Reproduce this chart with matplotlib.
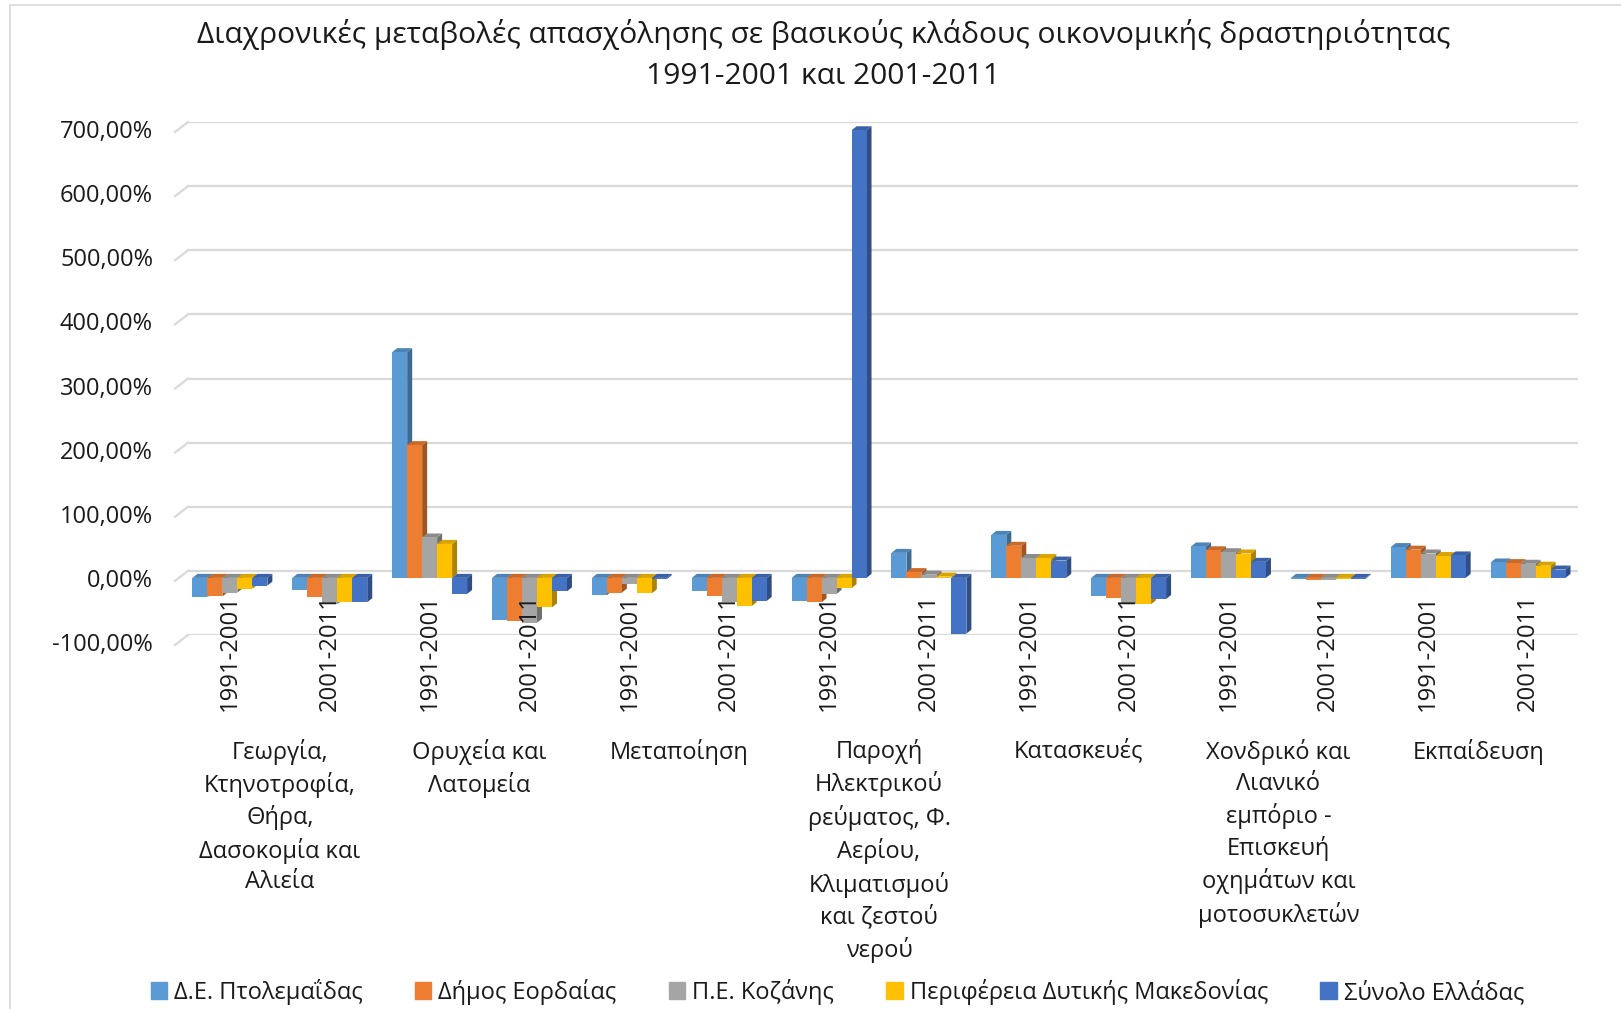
import matplotlib
matplotlib.use("Agg")
import matplotlib.pyplot as plt
from matplotlib.patches import Polygon
from matplotlib.lines import Line2D
from matplotlib.colors import to_rgb
import matplotlib.transforms as mtransforms
import numpy as np

plt.rcParams['font.family'] = ['Open Sans', 'DejaVu Sans']

title = "Διαχρονικές μεταβολές απασχόλησης σε βασικούς κλάδους οικονομικής δραστηριότητας\n1991-2001 και 2001-2011"

sectors = [
    "Γεωργία,\nΚτηνοτροφία,\nΘήρα,\nΔασοκομία και\nΑλιεία",
    "Ορυχεία και\nΛατομεία",
    "Μεταποίηση",
    "Παροχή\nΗλεκτρικού\nρεύματος, Φ.\nΑερίου,\nΚλιματισμού\nκαι ζεστού\nνερού",
    "Κατασκευές",
    "Χονδρικό και\nΛιανικό\nεμπόριο -\nΕπισκευή\nοχημάτων και\nμοτοσυκλετών",
    "Εκπαίδευση",
]
periods = ["1991-2001", "2001-2011"] * 7

series_names = ["Δ.Ε. Πτολεμαΐδας", "Δήμος Εορδαίας", "Π.Ε. Κοζάνης",
                "Περιφέρεια Δυτικής Μακεδονίας", "Σύνολο Ελλάδας"]

ptolemaida = [-30, -19, 352, -66, -27, -20, -36, 39, 67, -29, 49, -1.5, 48, 24]
eordaia    = [-29, -30, 207, -67, -23, -28, -38, 9, 50, -32, 43, -3, 44, 23]
kozani     = [-23, -41, 63, -70, -9, -38, -25, 5, 31, -40, 40, -3, 38, 22]
periferia  = [-17, -38, 53, -46, -24, -44, -16, 2, 31, -41, 38, -1.5, 34, 19]
ellada     = [-12, -38, -25, -21, -2, -36, 698, -87, 27, -33, 25, -1, 35, 13]

yticks = [-100, 0, 100, 200, 300, 400, 500, 600, 700]
ytick_labels = ["-100,00%", "0,00%", "100,00%", "200,00%", "300,00%",
                "400,00%", "500,00%", "600,00%", "700,00%"]

series = [ptolemaida, eordaia, kozani, periferia, ellada]
colors = ["#5B9BD5", "#ED7D31", "#A5A5A5", "#FFC000", "#4472C4"]
text_color = "#1A1A1A"

W, H = 1621, 1009
fig = plt.figure(figsize=(W / 100, H / 100), dpi=100)
ax_l, ax_r, ax_t, ax_b = 180, 1578, 122, 635
ax = fig.add_axes([ax_l / W, 1 - ax_b / H, (ax_r - ax_l) / W, (ax_b - ax_t) / H])

n = len(periods)
x = np.arange(n)
bw = 0.15
ax.set_xlim(-0.5, n - 0.5)
ax.set_ylim(-100, 700)

px_x = (ax_r - ax_l) / n
px_y = (ax_b - ax_t) / 800
dx = 5 / px_x
dy = 4 / px_y

# bars sit on the "front" plane, slightly below the back-wall gridlines
front = ax.transData + mtransforms.ScaledTranslation(0, -7 / 100, fig.dpi_scale_trans)

def darker(c, f):
    r, g, b = to_rgb(c)
    return (r * f, g * f, b * f)

for k, (vals, col, name) in enumerate(zip(series, colors, series_names)):
    pos = x + (k - 2) * bw
    bars = ax.bar(pos, vals, width=bw, color=col, label=name, zorder=3, linewidth=0,
                  transform=front)
    for rect in bars:
        x0 = rect.get_x()
        x1 = x0 + rect.get_width()
        yb = rect.get_y()
        yt = yb + rect.get_height()
        lo, hi = min(yb, yt), max(yb, yt)
        side = Polygon([(x1, lo), (x1 + dx, lo + dy), (x1 + dx, hi + dy), (x1, hi)],
                       closed=True, facecolor=darker(col, 0.68), edgecolor='none',
                       zorder=2, transform=front)
        top = Polygon([(x0, hi), (x0 + dx, hi + dy), (x1 + dx, hi + dy), (x1, hi)],
                      closed=True, facecolor=darker(col, 0.85), edgecolor='none',
                      zorder=2, transform=front)
        ax.add_patch(side)
        ax.add_patch(top)

# gridlines (back wall) with perspective stubs
grid_start = (188 - ax_l) / (ax_r - ax_l)
stub_start = (175 - ax_l) / (ax_r - ax_l)
drop = 10 / px_y
bt = mtransforms.blended_transform_factory(ax.transAxes, ax.transData)
for v, lab in zip(yticks, ytick_labels):
    ax.axhline(v, xmin=grid_start, xmax=1, color="#D9D9D9", linewidth=1.6, zorder=0)
    ax.plot([stub_start, grid_start], [v - drop, v], transform=bt, color="#D9D9D9",
            linewidth=1.6, clip_on=False, zorder=0)
    ax.text((153 - ax_l) / (ax_r - ax_l), v - drop, lab, transform=bt, ha='right',
            va='center', fontsize=17, color=text_color)

ax.set_yticks([])
for s in ax.spines.values():
    s.set_visible(False)

# period tick labels
ax.spines['bottom'].set_position(('data', 0))
ax.set_xticks(x)
ax.set_xticklabels(periods, rotation=90, fontsize=17.1, color=text_color)
ax.tick_params(axis='x', length=0, pad=17)
ax.xaxis.set_zorder(5)

# sector labels
trans = mtransforms.blended_transform_factory(ax.transData, fig.transFigure)
for i, lab in enumerate(sectors):
    ax.text(2 * i + 0.5, 1 - 739 / H, lab, transform=trans, ha='center', va='top',
            fontsize=17, color=text_color, linespacing=1.37)

fig.suptitle(title, x=0.508, y=1 - 19 / H, va='top', fontsize=21.6, color=text_color,
             linespacing=1.55)

handles = [plt.Rectangle((0, 0), 1, 1, color=c) for c in colors]
fig.legend(handles, series_names, loc='center', bbox_to_anchor=(0.5165, 1 - 992 / H), ncol=5,
           frameon=False, fontsize=17, handlelength=0.7, handleheight=0.7,
           handletextpad=0.3, columnspacing=2.2, labelcolor=text_color)

# chart border
fig.add_artist(Line2D([10 / W, 10 / W], [0, 1 - 5 / H], color="#D9D9D9", linewidth=1.2))
fig.add_artist(Line2D([10 / W, 1], [1 - 5 / H, 1 - 5 / H], color="#D9D9D9", linewidth=1.2))

fig.savefig("out.png", dpi=100)
